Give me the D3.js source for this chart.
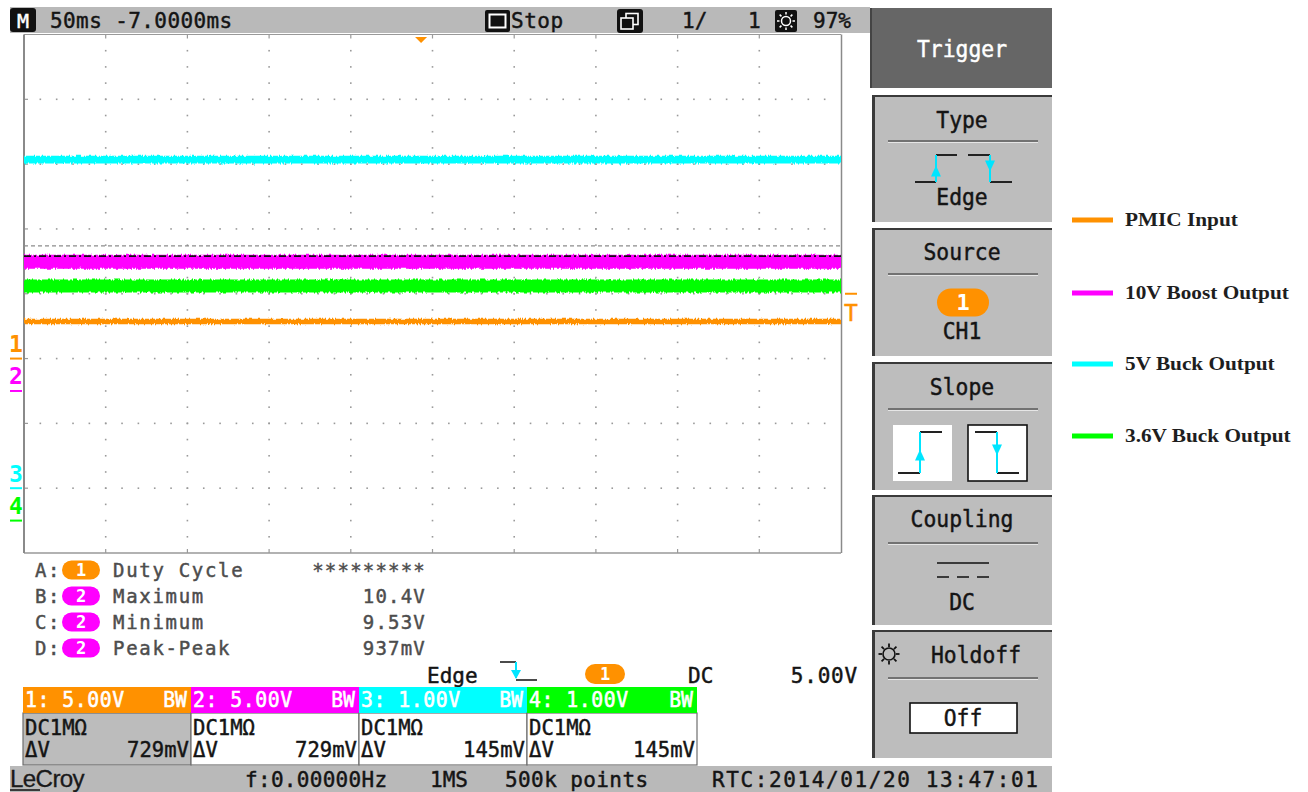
<!DOCTYPE html>
<html><head><meta charset="utf-8">
<script src="https://cdn.jsdelivr.net/npm/d3@7"></script>
<style>body{margin:0;background:#fff}svg{display:block}</style>
</head><body><svg id="c" width="1308" height="792"></svg>
<script>
// ---- acquisition settings ----
const timebaseMs = 50;          // per division
const delayMs = -7;             // trigger delay
const channels = ["1", "2", "3", "4"];
const channelColors = ["#ff9100", "#ff00ff", "#00ffff", "#00ff00"];
const voltsPerDiv = [5, 5, 1, 1];
const groundOffsetDiv = [-1, -1.5, -3, -3.5];   // ground marker, divisions from centre
const scaleLabels = ["5.00V", "5.00V", "1.00V", "1.00V"];
const deltaV = ["729mV", "729mV", "145mV", "145mV"];
const traceNames = ["PMIC Input", "10V Boost Output", "5V Buck Output", "3.6V Buck Output"];

// ---- captured traces: flat rails, band = low..high envelope (V) ----
const recordTimes = [-243, 257];                 // ms, relative to trigger
const traceLow  = [2.74, 9.53, 5.03, 3.54];
const traceHigh = [2.97, 10.4, 5.11, 3.70];

// ---- measurements ----
const measSlots   = ["A", "B", "C", "D"];
const measSources = [0, 1, 1, 1];
const measNames   = ["Duty Cycle", "Maximum", "Minimum", "Peak-Peak"];
const measValues  = ["*********", "10.4V", "9.53V", "937mV"];
const maxMarker   = 10.4;        // CH2 maximum cursor (V)
const refLineDiv  = 0.74;        // grey reference cursor, divisions above centre

// ---- trigger ----
const trigSource = 0, trigLevel = 5.0, trigCoupling = "DC", trigLevelLabel = "5.00V";

const svg = d3.select("#c");
const mono = "'DejaVu Sans Mono', monospace";
const ink = "#141414";

function txt(g, x, y, s, o = {}) {
  const fill = o.fill || ink;
  const t = g.append("text")
    .attr("transform", `translate(${x},${y}) scale(${o.sx || 1},1)`)
    .attr("font-family", o.font || mono)
    .attr("font-size", o.size || 20)
    .attr("fill", fill)
    .attr("text-anchor", o.anchor || "start")
    .text(s);
  const sw = o.stroke == null ? 0.45 : o.stroke;
  if (sw > 0) t.attr("stroke", fill).attr("stroke-width", sw);
  if (o.weight) t.attr("font-weight", o.weight);
  if (o.ls != null) t.attr("letter-spacing", o.ls);
  return t;
}
function pill(g, cx, cy, w, h, color, label, size) {
  g.append("rect").attr("x", cx - w / 2).attr("y", cy - h / 2).attr("width", w).attr("height", h)
    .attr("rx", h / 2).attr("fill", color);
  txt(g, cx, cy + size * 0.36, label, { size, fill: "#fff", anchor: "middle", weight: "bold", stroke: 0 });
}

// ---- filter giving the rails their ragged, noisy edges ----
const defs = svg.append("defs");
const f = defs.append("filter").attr("id", "noise").attr("filterUnits", "userSpaceOnUse")
  .attr("x", 0).attr("y", 0).attr("width", 1308).attr("height", 792);
f.append("feTurbulence").attr("type", "fractalNoise").attr("baseFrequency", "0.7 0.08")
  .attr("numOctaves", 2).attr("seed", 4).attr("result", "n");
f.append("feDisplacementMap").attr("in", "SourceGraphic").attr("in2", "n").attr("scale", 4)
  .attr("xChannelSelector", "R").attr("yChannelSelector", "G");

// ---- plot area & scales ----
const P = { x0: 24, x1: 841, y0: 34.5, y1: 553 };
const halfSpan = 5 * timebaseMs;
const x = d3.scaleLinear().domain([-halfSpan - delayMs, halfSpan - delayMs]).range([P.x0, P.x1]);
const yDiv = d3.scaleLinear().domain([-4, 4]).range([P.y1, P.y0]);
const yCh = (i, v) => yDiv(v / voltsPerDiv[i] + groundOffsetDiv[i]);

defs.append("clipPath").attr("id", "plotClip").append("rect")
  .attr("x", P.x0).attr("y", P.y0).attr("width", P.x1 - P.x0).attr("height", P.y1 - P.y0);

// top status bar
svg.append("rect").attr("x", 10).attr("y", 7).attr("width", 860).attr("height", 26).attr("fill", "#b9b9b9");
svg.append("rect").attr("x", 10).attr("y", 8).attr("width", 26).attr("height", 24).attr("rx", 3).attr("fill", "#111");
txt(svg, 23, 28, "M", { size: 20, fill: "#fff", anchor: "middle" });
txt(svg, 50, 28, `${timebaseMs}ms ${delayMs.toFixed(4)}ms`, { size: 21, ls: 0.4 });
svg.append("rect").attr("x", 485).attr("y", 10).attr("width", 25).attr("height", 22).attr("rx", 2).attr("fill", "#111");
svg.append("rect").attr("x", 489.5).attr("y", 14.5).attr("width", 16).attr("height", 13).attr("fill", "none").attr("stroke", "#fff").attr("stroke-width", 2);
txt(svg, 511, 28, "Stop", { size: 21, ls: 0.5 });
svg.append("rect").attr("x", 617).attr("y", 9).attr("width", 26).attr("height", 24).attr("rx", 3).attr("fill", "#111");
svg.append("rect").attr("x", 626).attr("y", 13.5).attr("width", 12).attr("height", 11).attr("fill", "#111").attr("stroke", "#fff").attr("stroke-width", 1.6);
svg.append("rect").attr("x", 621).attr("y", 18).attr("width", 12).attr("height", 11).attr("fill", "#111").attr("stroke", "#fff").attr("stroke-width", 1.6);
txt(svg, 682, 28, "1/", { size: 21 });
txt(svg, 748, 28, "1", { size: 21 });
svg.append("rect").attr("x", 775).attr("y", 10).attr("width", 22).attr("height", 22).attr("rx", 2).attr("fill", "#111");
svg.append("circle").attr("cx", 786).attr("cy", 21).attr("r", 4.5).attr("fill", "none").attr("stroke", "#fff").attr("stroke-width", 1.5);
d3.range(8).forEach(k => {
  const a = k * Math.PI / 4;
  svg.append("line").attr("x1", 786 + Math.cos(a) * 6.5).attr("y1", 21 + Math.sin(a) * 6.5)
    .attr("x2", 786 + Math.cos(a) * 9).attr("y2", 21 + Math.sin(a) * 9).attr("stroke", "#fff").attr("stroke-width", 1.5);
});
txt(svg, 813, 28, "97%", { size: 21 });

// plot background and frame
const plotG = svg.append("g");
plotG.append("rect").attr("x", P.x0).attr("y", P.y0).attr("width", P.x1 - P.x0).attr("height", P.y1 - P.y0).attr("fill", "#fff");

// dotted graticule
const grid = plotG.append("g").attr("fill", "#9a9a9a");
const dot = (cx, cy) => grid.append("rect").attr("x", cx - 0.8).attr("y", cy - 0.8).attr("width", 1.6).attr("height", 1.6);
const t0 = x.domain()[0];
d3.range(1, 10).forEach(k => {
  const gx = x(t0 + k * timebaseMs);
  d3.range(1, 32).forEach(j => dot(gx, yDiv(-4 + j * 0.25)));
  grid.append("rect").attr("x", gx - 0.6).attr("y", P.y0).attr("width", 1.2).attr("height", 4);
  grid.append("rect").attr("x", gx - 0.6).attr("y", P.y1 - 4).attr("width", 1.2).attr("height", 4);
});
d3.range(1, 8).forEach(k => {
  const gy = yDiv(-4 + k);
  d3.range(1, 50).forEach(m => dot(x(t0 + m * timebaseMs / 5), gy));
  grid.append("rect").attr("x", P.x0).attr("y", gy - 0.6).attr("width", 4).attr("height", 1.2);
});

// frame
plotG.append("line").attr("x1", P.x0).attr("x2", P.x1).attr("y1", P.y0).attr("y2", P.y0).attr("stroke", "#999").attr("stroke-width", 1);
plotG.append("line").attr("x1", P.x0).attr("x2", P.x1).attr("y1", P.y1).attr("y2", P.y1).attr("stroke", "#999").attr("stroke-width", 1.5);
plotG.append("line").attr("x1", P.x0).attr("x2", P.x0).attr("y1", P.y0).attr("y2", P.y1).attr("stroke", "#8a8a8a").attr("stroke-width", 2);
plotG.append("line").attr("x1", P.x1 + 0.5).attr("x2", P.x1 + 0.5).attr("y1", P.y0).attr("y2", P.y1).attr("stroke", "#8a8a8a").attr("stroke-width", 1.5);

// grey reference cursor
plotG.append("line").attr("x1", P.x0).attr("x2", P.x1).attr("y1", yDiv(refLineDiv)).attr("y2", yDiv(refLineDiv))
  .attr("stroke", "#8c8c8c").attr("stroke-width", 1.3).attr("stroke-dasharray", "4,3");

// traces
const traceG = plotG.append("g").attr("clip-path", "url(#plotClip)").append("g").attr("filter", "url(#noise)");
const area = i => d3.area().x(d => x(d)).y0(() => yCh(i, traceLow[i])).y1(() => yCh(i, traceHigh[i]));
[2, 1, 3, 0].forEach(i => {
  traceG.append("path").datum(recordTimes).attr("d", area(i)).attr("fill", channelColors[i])
    .attr("stroke", channelColors[i]).attr("stroke-width", 2.6);
});

// CH2 maximum cursor
plotG.append("line").attr("x1", P.x0).attr("x2", P.x1).attr("y1", yCh(1, maxMarker)).attr("y2", yCh(1, maxMarker))
  .attr("stroke", "#111").attr("stroke-width", 1.6).attr("stroke-dasharray", "7,3,2,3");

// trigger position marker
const tx = x(0);
plotG.append("path").attr("d", `M${tx - 6},37 L${tx + 6},37 L${tx},43 Z`).attr("fill", channelColors[trigSource]);

// trigger level marker
const ty = yCh(trigSource, trigLevel);
svg.append("line").attr("x1", 845).attr("x2", 857).attr("y1", ty).attr("y2", ty).attr("stroke", channelColors[trigSource]).attr("stroke-width", 2);
txt(svg, 851, ty + 27, "T", { size: 23, fill: channelColors[trigSource], anchor: "middle" });

// channel ground markers
channels.forEach((c, i) => {
  const gy = yDiv(groundOffsetDiv[i]);
  svg.append("line").attr("x1", 10).attr("x2", 22).attr("y1", gy).attr("y2", gy).attr("stroke", channelColors[i]).attr("stroke-width", 2);
  txt(svg, 16, gy - 6.5, c, { size: 23, fill: channelColors[i], anchor: "middle", weight: "bold", stroke: 0 });
});

// measurement table
measSlots.forEach((s, r) => {
  const by = 577 + r * 26;
  txt(svg, 35, by, s + ":", { size: 19, fill: "#4d4d4d", ls: 1.5 });
  pill(svg, 81, by - 7, 38, 19, channelColors[measSources[r]], channels[measSources[r]], 17);
  txt(svg, 113, by, measNames[r], { size: 19, fill: "#4d4d4d", ls: 1.7 });
  txt(svg, 426, by, measValues[r], { size: 19, fill: "#4d4d4d", anchor: "end", ls: 1.2 });
});

// trigger summary line
txt(svg, 427, 683, "Edge", { size: 21 });
svg.append("path").attr("d", "M500,662 H516 M516,680 H537").attr("stroke", "#111").attr("stroke-width", 1.6).attr("fill", "none");
svg.append("path").attr("d", "M516,662 V678").attr("stroke", "#00e5ff").attr("stroke-width", 2);
svg.append("path").attr("d", "M516,679 L511,670 L521,670 Z").attr("fill", "#00e5ff");
pill(svg, 605, 674, 40, 20, channelColors[trigSource], channels[trigSource], 17);
txt(svg, 688, 683, trigCoupling, { size: 21 });
txt(svg, 858, 683, trigLevelLabel, { size: 21, anchor: "end", ls: 0.8 });

// channel descriptor boxes
channels.forEach((c, i) => {
  const bx = 23 + i * 168, bw = i === 3 ? 170 : 168;
  svg.append("rect").attr("x", bx).attr("y", 713).attr("width", bw).attr("height", 52)
    .attr("fill", i === 0 ? "#bcbcbc" : "#fff").attr("stroke", "#6e6e6e").attr("stroke-width", 1.2);
  svg.append("rect").attr("x", bx).attr("y", 687).attr("width", bw).attr("height", 26).attr("fill", channelColors[i]);
  txt(svg, bx + 2, 707, `${c}: ${scaleLabels[i]}`, { size: 22, fill: "#fff", sx: 0.9, ls: 0.6, stroke: 0.6 });
  txt(svg, bx + bw - 4, 707, "BW", { size: 22, fill: "#fff", anchor: "end", sx: 0.9, stroke: 0.6 });
  txt(svg, bx + 2, 735, "DC1MΩ", { size: 21, sx: 0.98 });
  txt(svg, bx + 2, 757, "ΔV", { size: 21, sx: 0.98 });
  txt(svg, bx + bw - 2, 757, deltaV[i], { size: 21, anchor: "end", sx: 0.98 });
});

// bottom status bar
svg.append("rect").attr("x", 10).attr("y", 766).attr("width", 1042).attr("height", 26).attr("fill", "#b9b9b9");
txt(svg, 10, 787, "LeCroy", { size: 23, font: "'Liberation Sans', Arial, sans-serif", sx: 1.05, ls: -0.6, fill: "#1a1a1a", stroke: 0.3 });
svg.append("line").attr("x1", 10).attr("x2", 40).attr("y1", 790).attr("y2", 790).attr("stroke", "#1a1a1a").attr("stroke-width", 1.6);
txt(svg, 245, 787, "f:0.00000Hz", { size: 21, ls: 0.3 });
txt(svg, 430, 787, "1MS", { size: 21 });
txt(svg, 505, 787, "500k points", { size: 21, ls: 0.4 });
txt(svg, 712, 787, "RTC:2014/01/20 13:47:01", { size: 21, ls: 1.6 });

// ---- trigger menu panel ----
const PX0 = 872, PX1 = 1052, PC = 962;
svg.append("line").attr("x1", 871).attr("x2", 871).attr("y1", 8).attr("y2", 88).attr("stroke", "#444").attr("stroke-width", 2);
svg.append("rect").attr("x", PX0).attr("y", 8).attr("width", PX1 - PX0).attr("height", 80).attr("fill", "#666");
txt(svg, PC, 57, "Trigger", { size: 23, fill: "#fff", anchor: "middle", sx: 0.93 });

const panels = [
  { y0: 95, y1: 222, title: "Type", ty: 128, sep: 141 },
  { y0: 228, y1: 356, title: "Source", ty: 260, sep: 274 },
  { y0: 362, y1: 490, title: "Slope", ty: 395, sep: 409 },
  { y0: 495, y1: 625, title: "Coupling", ty: 527, sep: 543 },
  { y0: 630, y1: 758, title: "Holdoff", ty: 663, sep: 678 }
];
panels.forEach(p => {
  svg.append("rect").attr("x", PX0).attr("y", p.y0).attr("width", PX1 - PX0).attr("height", p.y1 - p.y0).attr("fill", "#bdbdbd");
  svg.append("line").attr("x1", PX0).attr("x2", PX1).attr("y1", p.y0 + 1).attr("y2", p.y0 + 1).attr("stroke", "#3a3a3a").attr("stroke-width", 2);
  svg.append("line").attr("x1", PX0 + 1.5).attr("x2", PX0 + 1.5).attr("y1", p.y0).attr("y2", p.y1).attr("stroke", "#3a3a3a").attr("stroke-width", 3);
  svg.append("line").attr("x1", 888).attr("x2", 1038).attr("y1", p.sep).attr("y2", p.sep).attr("stroke", "#5a5a5a").attr("stroke-width", 1.5);
  svg.append("line").attr("x1", 888).attr("x2", 1038).attr("y1", p.sep + 1.5).attr("y2", p.sep + 1.5).attr("stroke", "#e6e6e6").attr("stroke-width", 1);
  const cx = p.title === "Holdoff" ? PC + 14 : PC;
  txt(svg, cx, p.ty, p.title, { size: 23, anchor: "middle", sx: 0.93 });
});

const cyanIcon = "#00e5ff";
function edgeIcon(g, xa, ylo, yhi, w, rising) {
  const xb = xa;
  if (rising) {
    g.append("path").attr("d", `M${xa - w},${ylo} H${xa} M${xa},${yhi} H${xa + w}`).attr("stroke", "#222").attr("stroke-width", 1.8).attr("fill", "none");
    g.append("path").attr("d", `M${xb},${ylo} V${yhi}`).attr("stroke", cyanIcon).attr("stroke-width", 2);
    const my = (ylo + yhi) / 2 - 3;
    g.append("path").attr("d", `M${xb},${my} L${xb - 5},${my + 11} L${xb + 5},${my + 11} Z`).attr("fill", cyanIcon);
  } else {
    g.append("path").attr("d", `M${xa - w},${yhi} H${xa} M${xa},${ylo} H${xa + w}`).attr("stroke", "#222").attr("stroke-width", 1.8).attr("fill", "none");
    g.append("path").attr("d", `M${xb},${yhi} V${ylo}`).attr("stroke", cyanIcon).attr("stroke-width", 2);
    const my = (ylo + yhi) / 2 + 3;
    g.append("path").attr("d", `M${xb},${my} L${xb - 5},${my - 11} L${xb + 5},${my - 11} Z`).attr("fill", cyanIcon);
  }
}
// Type: edge
edgeIcon(svg, 936, 182, 155, 21, true);
edgeIcon(svg, 990, 182, 155, 22, false);
txt(svg, PC, 205, "Edge", { size: 23, anchor: "middle", sx: 0.93 });
// Source
pill(svg, 963, 302.5, 52, 28, channelColors[trigSource], channels[trigSource], 22);
txt(svg, PC, 339, "CH" + channels[trigSource], { size: 23, anchor: "middle", sx: 0.93 });
// Slope
svg.append("rect").attr("x", 893).attr("y", 425).attr("width", 59).attr("height", 56).attr("fill", "#fff");
edgeIcon(svg, 920, 473, 432, 22, true);
svg.append("rect").attr("x", 968).attr("y", 425).attr("width", 59).attr("height", 56).attr("fill", "#fff").attr("stroke", "#111").attr("stroke-width", 1.6);
edgeIcon(svg, 997, 473, 432, 22, false);
// Coupling
svg.append("line").attr("x1", 937).attr("x2", 989).attr("y1", 563).attr("y2", 563).attr("stroke", "#111").attr("stroke-width", 1.6);
svg.append("line").attr("x1", 937).attr("x2", 989).attr("y1", 577).attr("y2", 577).attr("stroke", "#111").attr("stroke-width", 1.6).attr("stroke-dasharray", "12,8");
txt(svg, PC, 610, trigCoupling, { size: 23, anchor: "middle", sx: 0.93 });
// Holdoff
svg.append("circle").attr("cx", 889).attr("cy", 654).attr("r", 6).attr("fill", "none").attr("stroke", "#111").attr("stroke-width", 1.6);
d3.range(8).forEach(k => {
  const a = k * Math.PI / 4;
  svg.append("line").attr("x1", 889 + Math.cos(a) * 7).attr("y1", 654 + Math.sin(a) * 7)
    .attr("x2", 889 + Math.cos(a) * 10.5).attr("y2", 654 + Math.sin(a) * 10.5).attr("stroke", "#111").attr("stroke-width", 1.8);
});
svg.append("rect").attr("x", 910).attr("y", 703).attr("width", 107).attr("height", 30).attr("fill", "#fff").attr("stroke", "#111").attr("stroke-width", 1.6);
txt(svg, 963, 726, "Off", { size: 23, anchor: "middle", sx: 0.93 });

// ---- legend ----
const legendY = [220, 293, 364, 436];
traceNames.forEach((n, i) => {
  svg.append("line").attr("x1", 1072).attr("x2", 1113).attr("y1", legendY[i]).attr("y2", legendY[i])
    .attr("stroke", channelColors[i]).attr("stroke-width", 5);
  txt(svg, 1125, legendY[i] + 6, n, { size: 19, font: "'Liberation Serif', 'Times New Roman', serif", weight: "bold", sx: 1.12, fill: "#1e1e1e", stroke: 0 });
});
</script></body></html>
